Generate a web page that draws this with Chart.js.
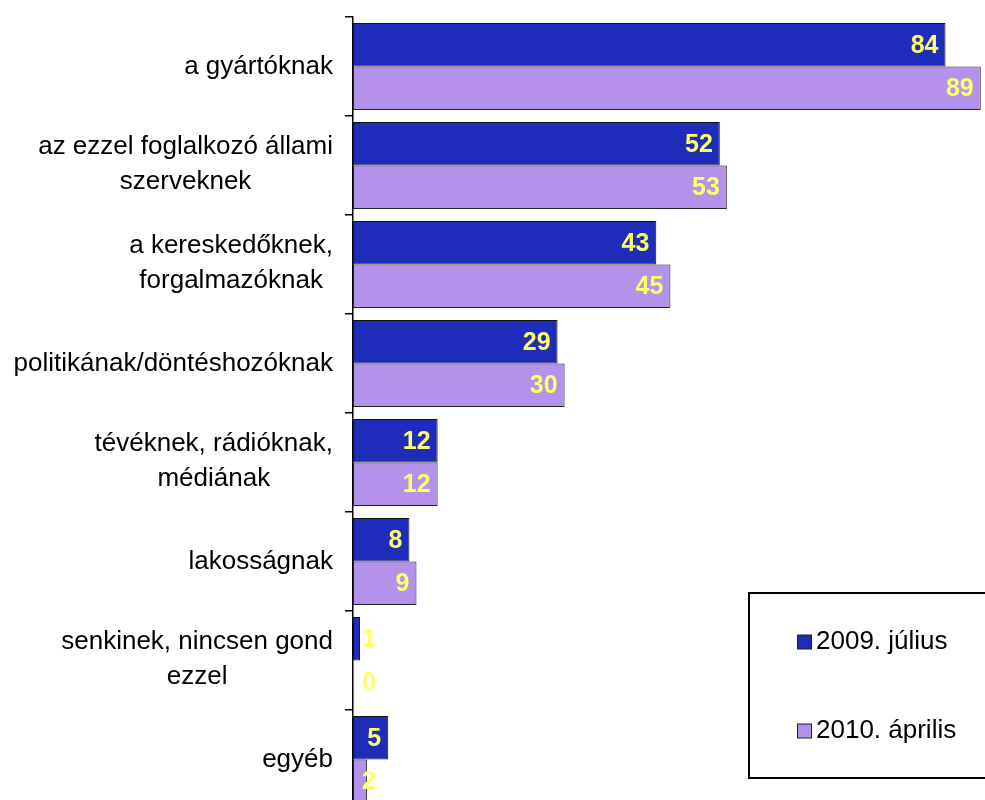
<!DOCTYPE html>
<html><head><meta charset="utf-8">
<script src="https://cdn.jsdelivr.net/npm/chart.js@4.4.0/dist/chart.umd.min.js"></script>
<style>
html,body{margin:0;padding:0;background:#fff;overflow:hidden}
#wrap{width:985px;height:800px;overflow:hidden;position:relative;background:#fff}
#wrap canvas{display:block}
</style></head><body>
<div id="wrap"><canvas id="c" width="985" height="809"></canvas></div>
<script>
const categories = [
  ["a gyártóknak"],
  ["az ezzel foglalkozó állami", "szerveknek"],
  ["a kereskedőknek,", "forgalmazóknak"],
  ["politikának/döntéshozóknak"],
  ["tévéknek, rádióknak,", "médiának"],
  ["lakosságnak"],
  ["senkinek, nincsen gond", "ezzel"],
  ["egyéb"]
];
const series2009 = [84, 52, 43, 29, 12, 8, 1, 5];
const series2010 = [89, 53, 45, 30, 12, 9, 0, 2];
const seriesNames = ["2009. július", "2010. április"];
const seriesColors = ["#1d2db9", "#b492eb"];

const FONT = '"Liberation Sans", Arial, Helvetica, sans-serif';

const catLabelPlugin = {
  id: 'catLabels',
  afterDraw(chart) {
    const ctx = chart.ctx;
    const ys = chart.scales.y;
    ctx.save();
    ctx.font = '26px ' + FONT;
    ctx.fillStyle = '#000';
    ctx.textBaseline = 'middle';
    ctx.textAlign = 'center';
    const rightX = 333;
    const lh = 35;
    chart.data.labels.forEach((lines, i) => {
      const yc = ys.getPixelForValue(i);
      let maxW = 0;
      lines.forEach(l => { maxW = Math.max(maxW, ctx.measureText(l).width); });
      const cx = rightX - maxW / 2;
      const n = lines.length;
      const dy = n === 1 ? 0 : -1;
      lines.forEach((l, j) => {
        const y = yc + (j - (n - 1) / 2) * lh + dy;
        ctx.fillText(l, cx, y);
      });
    });
    ctx.restore();
  }
};

const valueLabelPlugin = {
  id: 'valueLabels',
  afterDatasetsDraw(chart) {
    const ctx = chart.ctx;
    const axisX = chart.chartArea.left;
    ctx.save();
    ctx.font = 'bold 25px ' + FONT;
    ctx.fillStyle = '#ffff66';
    ctx.textBaseline = 'middle';
    ctx.textAlign = 'right';
    chart.data.datasets.forEach((ds, di) => {
      const meta = chart.getDatasetMeta(di);
      meta.data.forEach((el, i) => {
        const txt = String(ds.data[i]);
        const w = ctx.measureText(txt).width;
        const x = Math.max(el.x - 7, axisX + 9 + w);
        ctx.fillText(txt, x, el.y + 1);
      });
    });
    ctx.restore();
  }
};

const legendPlugin = {
  id: 'boxLegend',
  afterDraw(chart) {
    const ctx = chart.ctx;
    ctx.save();
    ctx.lineWidth = 2;
    ctx.strokeStyle = '#000';
    ctx.strokeRect(749, 593, 300, 185);
    ctx.font = '26px ' + FONT;
    ctx.textBaseline = 'middle';
    ctx.textAlign = 'left';
    const ys = [642, 731];
    chart.data.datasets.forEach((ds, di) => {
      const y = ys[di];
      ctx.fillStyle = ds.backgroundColor;
      ctx.fillRect(797.5, y - 7, 14, 14);
      ctx.lineWidth = 1;
      ctx.strokeStyle = '#222';
      ctx.strokeRect(797.5, y - 7, 14, 14);
      ctx.fillStyle = '#000';
      ctx.fillText(ds.label, 816, y);
    });
    ctx.restore();
  }
};

new Chart(document.getElementById('c'), {
  type: 'bar',
  data: {
    labels: categories,
    datasets: [
      { label: seriesNames[0], data: series2009, backgroundColor: seriesColors[0], borderColor: '#111', borderWidth: 1, borderSkipped: false },
      { label: seriesNames[1], data: series2010, backgroundColor: seriesColors[1], borderColor: '#222', borderWidth: 1, borderSkipped: false }
    ]
  },
  options: {
    responsive: false,
    animation: false,
    devicePixelRatio: 1,
    indexAxis: 'y',
    categoryPercentage: 0.88,
    barPercentage: 1.0,
    layout: { padding: { left: 345, top: 17, right: 0, bottom: 0 } },
    plugins: { legend: { display: false }, tooltip: { enabled: false } },
    scales: {
      x: { display: false, min: 0, max: 89.6 },
      y: {
        ticks: { display: false },
        grid: { drawOnChartArea: false, drawTicks: true, tickLength: 8, color: '#000', lineWidth: 1.5, offset: true },
        border: { color: '#000', width: 1.5 }
      }
    }
  },
  plugins: [catLabelPlugin, valueLabelPlugin, legendPlugin]
});
</script>
</body></html>
